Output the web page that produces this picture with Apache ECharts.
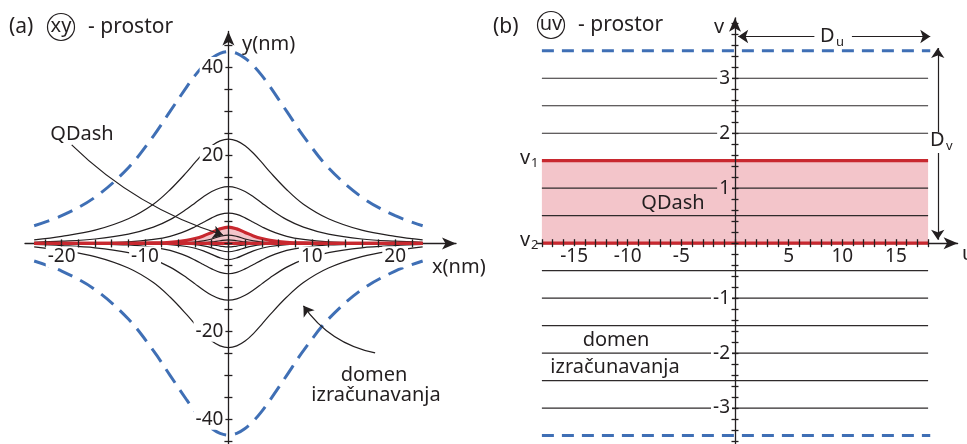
<!DOCTYPE html>
<html>
<head>
<meta charset="utf-8">
<script src="https://cdn.jsdelivr.net/npm/echarts@6/dist/echarts.min.js"></script>
<style>
html, body { margin: 0; padding: 0; background: #fff; }
#chart { width: 967px; height: 444px; }
</style>
</head>
<body>
<div id="chart"></div>
<script>
// ---- (a) xy - prostor : curves v = const ----
var xGrid = [-23.3, -20, -16, -12, -9, -7, -5, -4, -3, -2, -1, 0, 1, 2, 3, 4, 5, 7, 9, 12, 16, 20, 23.3];
var dashTop = [4.0, 6.3, 10.5, 17.2, 24.4, 30.0, 35.6, 38.2, 40.4, 42.1, 43.2, 43.6, 43.2, 42.1, 40.4, 38.2, 35.6, 30.0, 24.4, 17.2, 10.5, 6.3, 4.0];
var dashBot = [-4.0, -6.3, -10.5, -17.2, -24.4, -30.0, -35.6, -38.2, -40.4, -42.1, -43.2, -43.6, -43.2, -42.1, -40.4, -38.2, -35.6, -30.0, -24.4, -17.2, -10.5, -6.3, -4.0];
var curvesUp = [
	[0.8, 1.6, 3.0, 5.6, 8.9, 12.2, 16.2, 18.4, 20.5, 22.2, 23.3, 23.7, 23.3, 22.2, 20.5, 18.4, 16.2, 12.2, 8.9, 5.6, 3.0, 1.6, 0.8],
	[0.25, 0.5, 1.0, 2.1, 3.7, 5.4, 7.8, 9.2, 10.6, 11.8, 12.6, 12.9, 12.6, 11.8, 10.6, 9.2, 7.8, 5.4, 3.7, 2.1, 1.0, 0.5, 0.25],
	[0.03, 0.05, 0.12, 0.35, 0.9, 1.6, 2.9, 3.8, 4.8, 5.8, 6.6, 6.9, 6.6, 5.8, 4.8, 3.8, 2.9, 1.6, 0.9, 0.35, 0.12, 0.05, 0.03],
	[0, 0, 0, 0, 0.02, 0.05, 0.17, 0.31, 0.57, 1.0, 1.6, 1.9, 1.6, 1.0, 0.57, 0.31, 0.17, 0.05, 0.02, 0, 0, 0, 0],
	[0, 0, 0, 0, 0, 0, 0.03, 0.07, 0.16, 0.33, 0.6, 0.8, 0.6, 0.33, 0.16, 0.07, 0.03, 0, 0, 0, 0, 0, 0]
];
var curvesDown = [
	[-0.8, -1.6, -3.0, -5.6, -8.9, -12.2, -16.2, -18.4, -20.5, -22.2, -23.3, -23.7, -23.3, -22.2, -20.5, -18.4, -16.2, -12.2, -8.9, -5.6, -3.0, -1.6, -0.8],
	[-0.25, -0.5, -1.0, -2.1, -3.7, -5.4, -7.8, -9.2, -10.6, -11.8, -12.6, -12.9, -12.6, -11.8, -10.6, -9.2, -7.8, -5.4, -3.7, -2.1, -1.0, -0.5, -0.25],
	[-0.03, -0.05, -0.12, -0.35, -0.9, -1.6, -2.9, -3.8, -4.8, -5.8, -6.6, -6.9, -6.6, -5.8, -4.8, -3.8, -2.9, -1.6, -0.9, -0.35, -0.12, -0.05, -0.03],
	[0, 0, -0.01, -0.03, -0.1, -0.26, -0.7, -1.1, -1.7, -2.5, -3.3, -3.7, -3.3, -2.5, -1.7, -1.1, -0.7, -0.26, -0.1, -0.03, -0.01, 0, 0],
	[0, 0, 0, 0, -0.02, -0.05, -0.17, -0.31, -0.57, -1.0, -1.6, -1.9, -1.6, -1.0, -0.57, -0.31, -0.17, -0.05, -0.02, 0, 0, 0, 0],
	[0, 0, 0, 0, 0, 0, -0.03, -0.07, -0.16, -0.33, -0.6, -0.8, -0.6, -0.33, -0.16, -0.07, -0.03, 0, 0, 0, 0, 0, 0]
];
var qdashCurve = [0, 0, 0.01, 0.03, 0.1, 0.26, 0.7, 1.1, 1.7, 2.5, 3.3, 3.7, 3.3, 2.5, 1.7, 1.1, 0.7, 0.26, 0.1, 0.03, 0.01, 0, 0];
var qdashBase = [0, 0, 0, 0, 0, 0, 0, 0, 0, 0, 0, 0, 0, 0, 0, 0, 0, 0, 0, 0, 0, 0, 0];
var xTickLabels = [-20, -10, 10, 20];
var yTickLabels = [-40, -20, 20, 40];

// ---- (b) uv - prostor ----
var uRange = [-18, 18];
var vLines = [3, 2.5, 2, 1, 0.5, -0.5, -1, -1.5, -2, -2.5, -3];
var vDash = [3.5, -3.5];
var v1 = 1.5, v2 = 0;
var uTickLabels = [-15, -10, -5, 5, 10, 15];
var vTickLabels = [-3, -2, -1, 1, 2, 3];

var ink = '#231f20', red = '#c8282f', pink = '#f3c5ca', blue = '#3f6fb5';
var FONT = '"Noto Sans", sans-serif';

var grids = [
	{ left: 25, top: 31.4, width: 431, height: 413, xr: [-24.4, 27.3], yr: [-45.7, 48.2] },
	{ left: 537.6, top: 17.8, width: 420, height: 426, xr: [-18.4, 20.75], yr: [-3.65, 4.1] }
];

function pairs(xs, ys) { return xs.map(function(x, i) { return [x, ys[i]]; }); }
function range(a, b, step) { var r = []; for (var i = Math.round(a / step); i * step <= b + 1e-9; i++) r.push(Math.round(i * step * 100) / 100); return r; }

// three axes per dimension: the line, ticks out + labels, ticks in
function axisSet(dim, gi, zeroIdx, ticks, labels, tickLen, labelFmt) {
	var g = grids[gi];
	var r = dim === 'x' ? g.xr : g.yr;
	var off;
	if (dim === 'x') off = g.top + g.yr[1] / (g.yr[1] - g.yr[0]) * g.height - (g.top + g.height);
	else off = g.left - (g.left + (0 - g.xr[0]) / (g.xr[1] - g.xr[0]) * g.width);
	var base = { gridIndex: gi, type: 'value', min: r[0], max: r[1], position: dim === 'x' ? 'bottom' : 'left', splitLine: { show: false } };
	var main = Object.assign({}, base, {
		z: dim === 'x' ? 1 : 9,   // horizontal axis sits under the red v=0 line, vertical one over the fill
		axisLine: { show: true, onZero: true, onZeroAxisIndex: zeroIdx, symbol: ['none', 'arrow'], symbolSize: [9, 14], lineStyle: { color: ink, width: 1.3 } },
		axisTick: { show: false }, axisLabel: { show: false }
	});
	var outT = Object.assign({}, base, {
		z: 10, offset: off,
		axisLine: { show: false, onZero: false },
		axisTick: { show: true, inside: false, length: tickLen, customValues: ticks, lineStyle: { color: ink, width: 1.3 } },
		axisLabel: { show: true, customValues: labels, fontSize: 19, fontFamily: FONT, color: ink, margin: 3, formatter: labelFmt, rich: richW }
	});
	var inT = Object.assign({}, base, {
		z: 10, offset: off,
		axisLine: { show: false, onZero: false },
		axisTick: { show: true, inside: true, length: tickLen, customValues: ticks, lineStyle: { color: ink, width: 1.3 } },
		axisLabel: { show: false }
	});
	return [main, outT, inT];
}

var whiteFmt = function(v) { return '{w|' + v + '}'; };
var richW = { w: { backgroundColor: '#fff', fontSize: 19, fontFamily: FONT, color: ink, padding: [1, 2] },
	p: { backgroundColor: pink, fontSize: 19, fontFamily: FONT, color: ink, padding: [1, 2] } };
var vFmt = function(v) { return (v > 0 && v < v1 ? '{p|' : '{w|') + v + '}'; };

var xAxes = axisSet('x', 0, 0, range(-22, 22, 2), xTickLabels, 4, whiteFmt)
	.concat(axisSet('x', 1, 3, range(-18, 18, 1), uTickLabels, 4, whiteFmt));
var yAxes = axisSet('y', 0, 0, range(-45, 45, 5), yTickLabels, 4, whiteFmt)
	.concat(axisSet('y', 1, 3, range(-3.6, 4.0, 0.2), vTickLabels, 3.5, vFmt));

var series = [];
function line(xi, data, color, width, type, z, extra) {
	var s = { type: 'line', xAxisIndex: xi, yAxisIndex: xi, data: data, smooth: 0.35, symbol: 'none', silent: true, z: z,
		lineStyle: { color: color, width: width, type: type || 'solid', cap: 'butt' } };
	return Object.assign(s, extra || {});
}
// panel a
series.push(line(0, pairs(xGrid, qdashCurve), pink, 0, 'solid', 2, { areaStyle: { color: pink, opacity: 1 } }));
curvesUp.concat(curvesDown).forEach(function(c) { series.push(line(0, pairs(xGrid, c), ink, 1.2, 'solid', 3)); });
series.push(line(0, pairs(xGrid, dashTop), blue, 3, [16, 9], 3));
series.push(line(0, pairs(xGrid, dashBot), blue, 3, [16, 9], 3));
series.push(line(0, pairs(xGrid, qdashBase), red, 3.2, 'solid', 4));
series.push(line(0, pairs(xGrid, qdashCurve), red, 3.2, 'solid', 4));
// panel b
series.push(line(3, [[uRange[0], v1], [uRange[1], v1]], pink, 0, 'solid', 2, { smooth: false, areaStyle: { color: pink, opacity: 1 } }));
vLines.forEach(function(v) { series.push(line(3, [[uRange[0], v], [uRange[1], v]], '#2e2a2b', 1.2, 'solid', 3, { smooth: false })); });
vDash.forEach(function(v) { series.push(line(3, [[uRange[0], v], [uRange[1] + 0.2, v]], blue, 3, [12, 8], 3, { smooth: false })); });
[v1, v2].forEach(function(v) { series.push(line(3, [[uRange[0], v], [uRange[1], v]], red, 3.2, 'solid', 4, { smooth: false })); });

// annotation arrows
function arrows(xi, coords, curv) {
	return { type: 'lines', coordinateSystem: 'cartesian2d', xAxisIndex: xi, yAxisIndex: xi, silent: true, z: 6,
		symbol: ['none', 'arrow'], symbolSize: [7, 10],
		lineStyle: { color: ink, width: 1.2, curveness: curv, opacity: 1 },
		data: coords.map(function(c) { return { coords: c }; }) };
}
series.push(arrows(0, [[[-18.8, 22.4], [-0.65, 1.9]]], -0.12));
series.push(arrows(0, [[[17.6, -24.9], [9.0, -14.2]]], 0.2));
series.push(arrows(3, [[[7.4, 3.76], [0.3, 3.76]], [[10.9, 3.76], [18.2, 3.76]], [[18.9, 2.02], [18.9, 3.55]], [[18.9, 1.64], [18.9, 0.06]]], 0));

function txt(x, y, s, size, align) {
	return { type: 'text', x: x, y: y, z: 20, style: { text: s, fontSize: size || 20, fontFamily: FONT, fill: ink, align: align || 'left', verticalAlign: 'middle' } };
}
function circ(cx, cy, r) {
	return { type: 'circle', z: 20, shape: { cx: cx, cy: cy, r: r }, style: { fill: 'none', stroke: ink, lineWidth: 1.2 } };
}

var graphic = [
	txt(9, 27, '(a)', 21), circ(61, 27, 13.5), txt(61, 26, 'xy', 20, 'center'), txt(88, 27, '- prostor', 21),
	txt(242, 44, 'y(nm)', 20), txt(432, 267, 'x(nm)', 20),
	txt(82, 134, 'QDash', 20, 'center'),
	txt(374, 375, 'domen', 20, 'center'), txt(376, 395, 'izračunavanja', 20, 'center'),
	txt(493, 27, '(b)', 21), circ(551, 25, 13.5), txt(551, 24, 'uv', 20, 'center'), txt(578, 25, '- prostor', 21),
	txt(719, 27, 'v', 20, 'center'), txt(962, 254, 'u', 20, 'left'),
	txt(820, 36, 'D', 20), txt(836, 42, 'u', 13),
	txt(930, 140, 'D', 20), txt(946, 146, 'v', 13),
	txt(520, 158, 'v', 20), txt(531, 163, '1', 13),
	txt(520, 240, 'v', 20), txt(531, 245, '2', 13),
	txt(673, 203, 'QDash', 20, 'center'),
	txt(616, 340, 'domen', 20, 'center'), txt(615, 367, 'izračunavanja', 20, 'center')
];

var myChart = echarts.init(document.getElementById('chart'));
myChart.setOption({
	animation: false,
	backgroundColor: '#fff',
	grid: grids.map(function(g) {
		return { left: g.left, top: g.top, width: g.width, height: g.height, containLabel: false, outerBoundsMode: 'none' };
	}),
	xAxis: xAxes,
	yAxis: yAxes,
	series: series,
	graphic: graphic
});
</script>
</body>
</html>
